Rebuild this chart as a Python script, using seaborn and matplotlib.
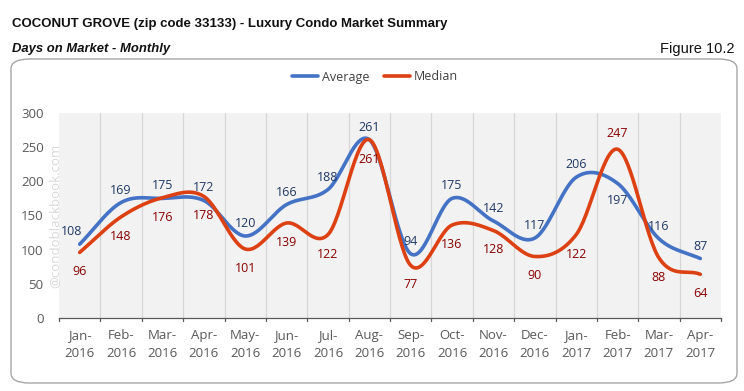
import numpy as np
import pandas as pd
import matplotlib
matplotlib.use("Agg")
import matplotlib.pyplot as plt
from matplotlib.patches import FancyBboxPatch
from matplotlib.lines import Line2D
import seaborn as sns

months = ["Jan-\n2016", "Feb-\n2016", "Mar-\n2016", "Apr-\n2016", "May-\n2016", "Jun-\n2016",
          "Jul-\n2016", "Aug-\n2016", "Sep-\n2016", "Oct-\n2016", "Nov-\n2016", "Dec-\n2016",
          "Jan-\n2017", "Feb-\n2017", "Mar-\n2017", "Apr-\n2017"]
average = [108, 169, 175, 172, 120, 166, 188, 261, 94, 175, 142, 117, 206, 197, 116, 87]
median = [96, 148, 176, 178, 101, 139, 122, 261, 77, 136, 128, 90, 122, 247, 88, 64]
yticks = [0, 50, 100, 150, 200, 250, 300]

BLUE = "#4472C4"
RED = "#DD4113"
AVG_TXT = "#1F3864"
MED_TXT = "#8B0000"


def smooth(y, n=30):
    """Catmull-Rom spline through the data points (display smoothing)."""
    y = np.asarray(y, float)
    p = np.concatenate([[2 * y[0] - y[1]], y, [2 * y[-1] - y[-2]]])
    xs, ys = [], []
    for i in range(len(y) - 1):
        p0, p1, p2, p3 = p[i], p[i + 1], p[i + 2], p[i + 3]
        t = np.linspace(0, 1, n, endpoint=False)
        v = 0.5 * ((2 * p1) + (-p0 + p2) * t + (2 * p0 - 5 * p1 + 4 * p2 - p3) * t ** 2
                   + (-p0 + 3 * p1 - 3 * p2 + p3) * t ** 3)
        xs.append(i + t)
        ys.append(v)
    xs.append([len(y) - 1])
    ys.append([y[-1]])
    return np.concatenate(xs), np.concatenate(ys)


sns.set_theme(style="white")
plt.rcParams["font.family"] = ["Open Sans", "DejaVu Sans"]

fig = plt.figure(figsize=(7.44, 3.91), dpi=100)

# outer rounded frame
frame = FancyBboxPatch((11 / 744, 1 - 383 / 391), 726 / 744, (383 - 59) / 391,
                       boxstyle="round,pad=0,rounding_size=0.025",
                       transform=fig.transFigure, facecolor="white",
                       edgecolor="#A6A6A6", linewidth=1.0, zorder=-5)
fig.patches.append(frame)

ax = fig.add_axes([59 / 744, 1 - 318 / 391, (721 - 59) / 744, (318 - 113) / 391])
ax.set_zorder(1)
ax.set_facecolor("#F2F2F2")

xa, ya = smooth(average)
xm, ym = smooth(median)
df = pd.concat([
    pd.DataFrame({"x": xa, "y": ya, "series": "Average"}),
    pd.DataFrame({"x": xm, "y": ym, "series": "Median"}),
])
sns.lineplot(data=df, x="x", y="y", hue="series", palette={"Average": BLUE, "Median": RED},
             linewidth=2.6, ax=ax, legend=False, sort=False, estimator=None)

ax.set_xlim(-0.5, len(months) - 0.5)
ax.set_ylim(0, 300)
ax.set_yticks(yticks)
ax.set_yticklabels([str(v) for v in yticks], color="#595959", fontsize=9.5)
ax.set_xticks(range(len(months)))
ax.set_xticklabels(months, color="#595959", fontsize=9.5, linespacing=1.5)
ax.tick_params(axis="x", length=0, pad=8)
ax.tick_params(axis="y", length=0, pad=11)
bounds = np.arange(-0.5, len(months), 1.0)
for b in bounds[1:-1]:
    ax.axvline(b, color="#D6D6D6", linewidth=0.9, zorder=0)
for b in bounds:
    ax.plot([b, b], [0, -5], color="#595959", linewidth=0.9, clip_on=False)
for s in ["top", "right", "left"]:
    ax.spines[s].set_visible(False)
ax.spines["bottom"].set_color("#595959")
ax.spines["bottom"].set_linewidth(0.9)
ax.set_xlabel("")
ax.set_ylabel("")

# data labels above or below the line
avg_above = [True] * 16
avg_above[13] = False
med_above = [False] * 16
med_above[13] = True
for i, (a, m) in enumerate(zip(average, median)):
    dx = -6 if i == 0 else 0
    ax.annotate(str(a), (i, a), xytext=(dx, 9 if avg_above[i] else -12), textcoords="offset points",
                ha="center", va="center", color=AVG_TXT, fontsize=9)
    ax.annotate(str(m), (i, m), xytext=(0, 11 if med_above[i] else -14), textcoords="offset points",
                ha="center", va="center", color=MED_TXT, fontsize=9)

# watermark
fig.text(55 / 744, 1 - 216 / 391, "@condoblackbook.com", rotation=90, ha="center", va="center",
         color="#D9D9D9", fontsize=9.5, zorder=5)

# legend
handles = [Line2D([0], [0], color=BLUE, lw=2.6), Line2D([0], [0], color=RED, lw=2.6)]
fig.legend(handles, ["Average", "Median"], loc="center", bbox_to_anchor=(375 / 744, 1 - 77 / 391),
           ncol=2, frameon=False, fontsize=9, handlelength=2.1, handletextpad=0.3,
           columnspacing=1.2, labelcolor="#404040")

narrow = ["Liberation Sans Narrow", "Liberation Sans", "DejaVu Sans"]
fig.text(12 / 744, 1 - 24 / 391, "COCONUT GROVE (zip code 33133) - Luxury Condo Market Summary",
         ha="left", va="center", fontsize=9.5, fontweight="bold", family=narrow, color="#111111")
fig.text(12 / 744, 1 - 49 / 391, "Days on Market - Monthly", ha="left", va="center",
         fontsize=9.4, fontweight="bold", fontstyle="italic", family=narrow, color="#111111")
fig.text(735 / 744, 1 - 49 / 391, "Figure 10.2", ha="right", va="center",
         fontsize=10.5, family=narrow, color="#111111")

fig.savefig("out.png", dpi=100)
